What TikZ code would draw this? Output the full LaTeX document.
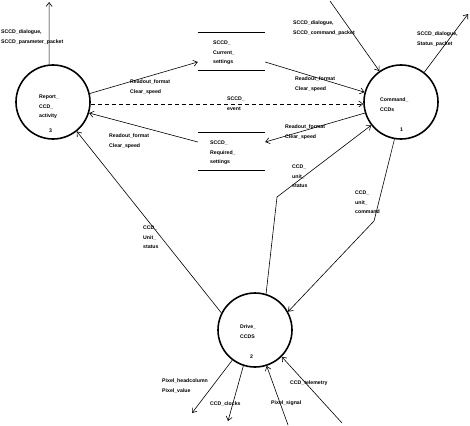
\documentclass[tikz,border=0pt]{standalone}
\usepackage{fontspec}
\setmainfont{Liberation Sans}
\usetikzlibrary{arrows.meta}
\tikzset{
  proc/.style={circle, draw, line width=1.6pt, minimum size=74pt, inner sep=0pt},
  store/.style={minimum width=67pt, minimum height=38pt, inner sep=0pt},
  flow/.style={->, line width=0.6pt},
  txt/.style={font=\fontsize{5.2}{9.5}\selectfont\bfseries, align=left, inner sep=0pt, anchor=north west},
  >={Straight Barb[length=4pt,width=6pt]}
}
\begin{document}
\begin{tikzpicture}[x=1pt,y=-1pt]
    \useasboundingbox (0,0) rectangle (470,425);
    % processes
    \node[proc] (report) at (53,102) {};
    \node[proc] (cmd) at (401,102) {};
    \node[proc] (drive) at (255,330) {};
    \node[txt] (reporttxt) at (39,95) {Report\_\\CCD\_\\activity};
    \node[txt] (reportnum) at (49,129) {3};
    \node[txt] (cmdtxt) at (380,98) {Command\_\\CCDs};
    \node[txt] (cmdnum) at (400,128) {1};
    \node[txt] (drivetxt) at (240,325) {Drive\_\\CCDS};
    \node[txt] (drivenum) at (250,355) {2};
    % data stores (top and bottom lines only)
    \node[store] (cur) at (231.5,51) {};
    \node[store] (req) at (231.5,151) {};
    \draw (cur.north west) -- (cur.north east) (cur.south west) -- (cur.south east);
    \draw (req.north west) -- (req.north east) (req.south west) -- (req.south east);
    \node[txt] (curtxt) at (213,41) {SCCD\_\\Current\_\\settings};
    \node[txt] (reqtxt) at (210,141) {SCCD\_\\Required\_\\settings};
    % free ends and bends
    \coordinate (rtopend) at (49.1,2);
    \coordinate (pktin) at (330,1);
    \coordinate (statout) at (468,14);
    \coordinate (knee1) at (374,221);
    \coordinate (knee2) at (277,197);
    \coordinate (pixout) at (192,413);
    \coordinate (clkout) at (228,421);
    \coordinate (sigin) at (288,425);
    \coordinate (telin) at (342,423);
    % flows between report and command
    \draw[flow] (report.96) -- (rtopend);
    \draw[flow] (report.13) -- ([yshift=-11pt]cur.west);
    \draw[flow] ([yshift=-11pt]cur.east) -- (cmd.165);
    \draw[flow, dash pattern=on 4pt off 3pt] (report.-3) -- (cmd.183);
    \draw[flow] (cmd.197) -- ([yshift=9pt]req.east);
    \draw[flow] ([yshift=9pt]req.west) -- (report.-17);
    \draw[flow] (pktin) -- (cmd.125);
    \draw[flow] (cmd.52) -- (statout);
    % flows to and from drive
    \draw[flow] (cmd.-100) -- (knee1) -- (drive.29);
    \draw[flow] (drive.73) -- (knee2) -- (cmd.218);
    \draw[flow] (drive.153) -- (report.-51);
    \draw[flow] (drive.233) -- (pixout);
    \draw[flow] (drive.252) -- (clkout);
    \draw[flow] (sigin) -- (drive.-72);
    \draw[flow] (telin) -- (drive.-45);
    % flow labels
    \node[txt] (paramlbl) at (1,30) {SCCD\_dialogue,\\SCCD\_parameter\_packet};
    \node[txt] (fmtlbla) at (130,80) {Readout\_format\\Clear\_speed};
    \node[txt] (fmtlblb) at (295,77) {Readout\_format\\Clear\_speed};
    \node[txt] (fmtlblc) at (285,125) {Readout\_format\\Clear\_speed};
    \node[txt] (fmtlbld) at (109,134) {Readout\_format\\Clear\_speed};
    \node[txt] (eventlbl) at (227,97) {SCCD\_\\event};
    \node[txt] (cmdpktlbl) at (293,21) {SCCD\_dialogue,\\SCCD\_command\_packet};
    \node[txt] (statlbl) at (417,32) {SCCD\_dialogue,\\Status\_packet};
    \node[txt] (ustatlbl) at (292,165) {CCD\_\\unit\_\\status};
    \node[txt] (ucmdlbl) at (355,191) {CCD\_\\unit\_\\command};
    \node[txt] (ustatlblb) at (143,226) {CCD\_\\Unit\_\\status};
    \node[txt] (pixlbl) at (162,379) {Pixel\_headcolumn\\Pixel\_value};
    \node[txt] (clklbl) at (210,402) {CCD\_clocks};
    \node[txt] (siglbl) at (271,401) {Pixel\_signal};
    \node[txt] (tellbl) at (290,381) {CCD\_telemetry};
\end{tikzpicture}
\end{document}
